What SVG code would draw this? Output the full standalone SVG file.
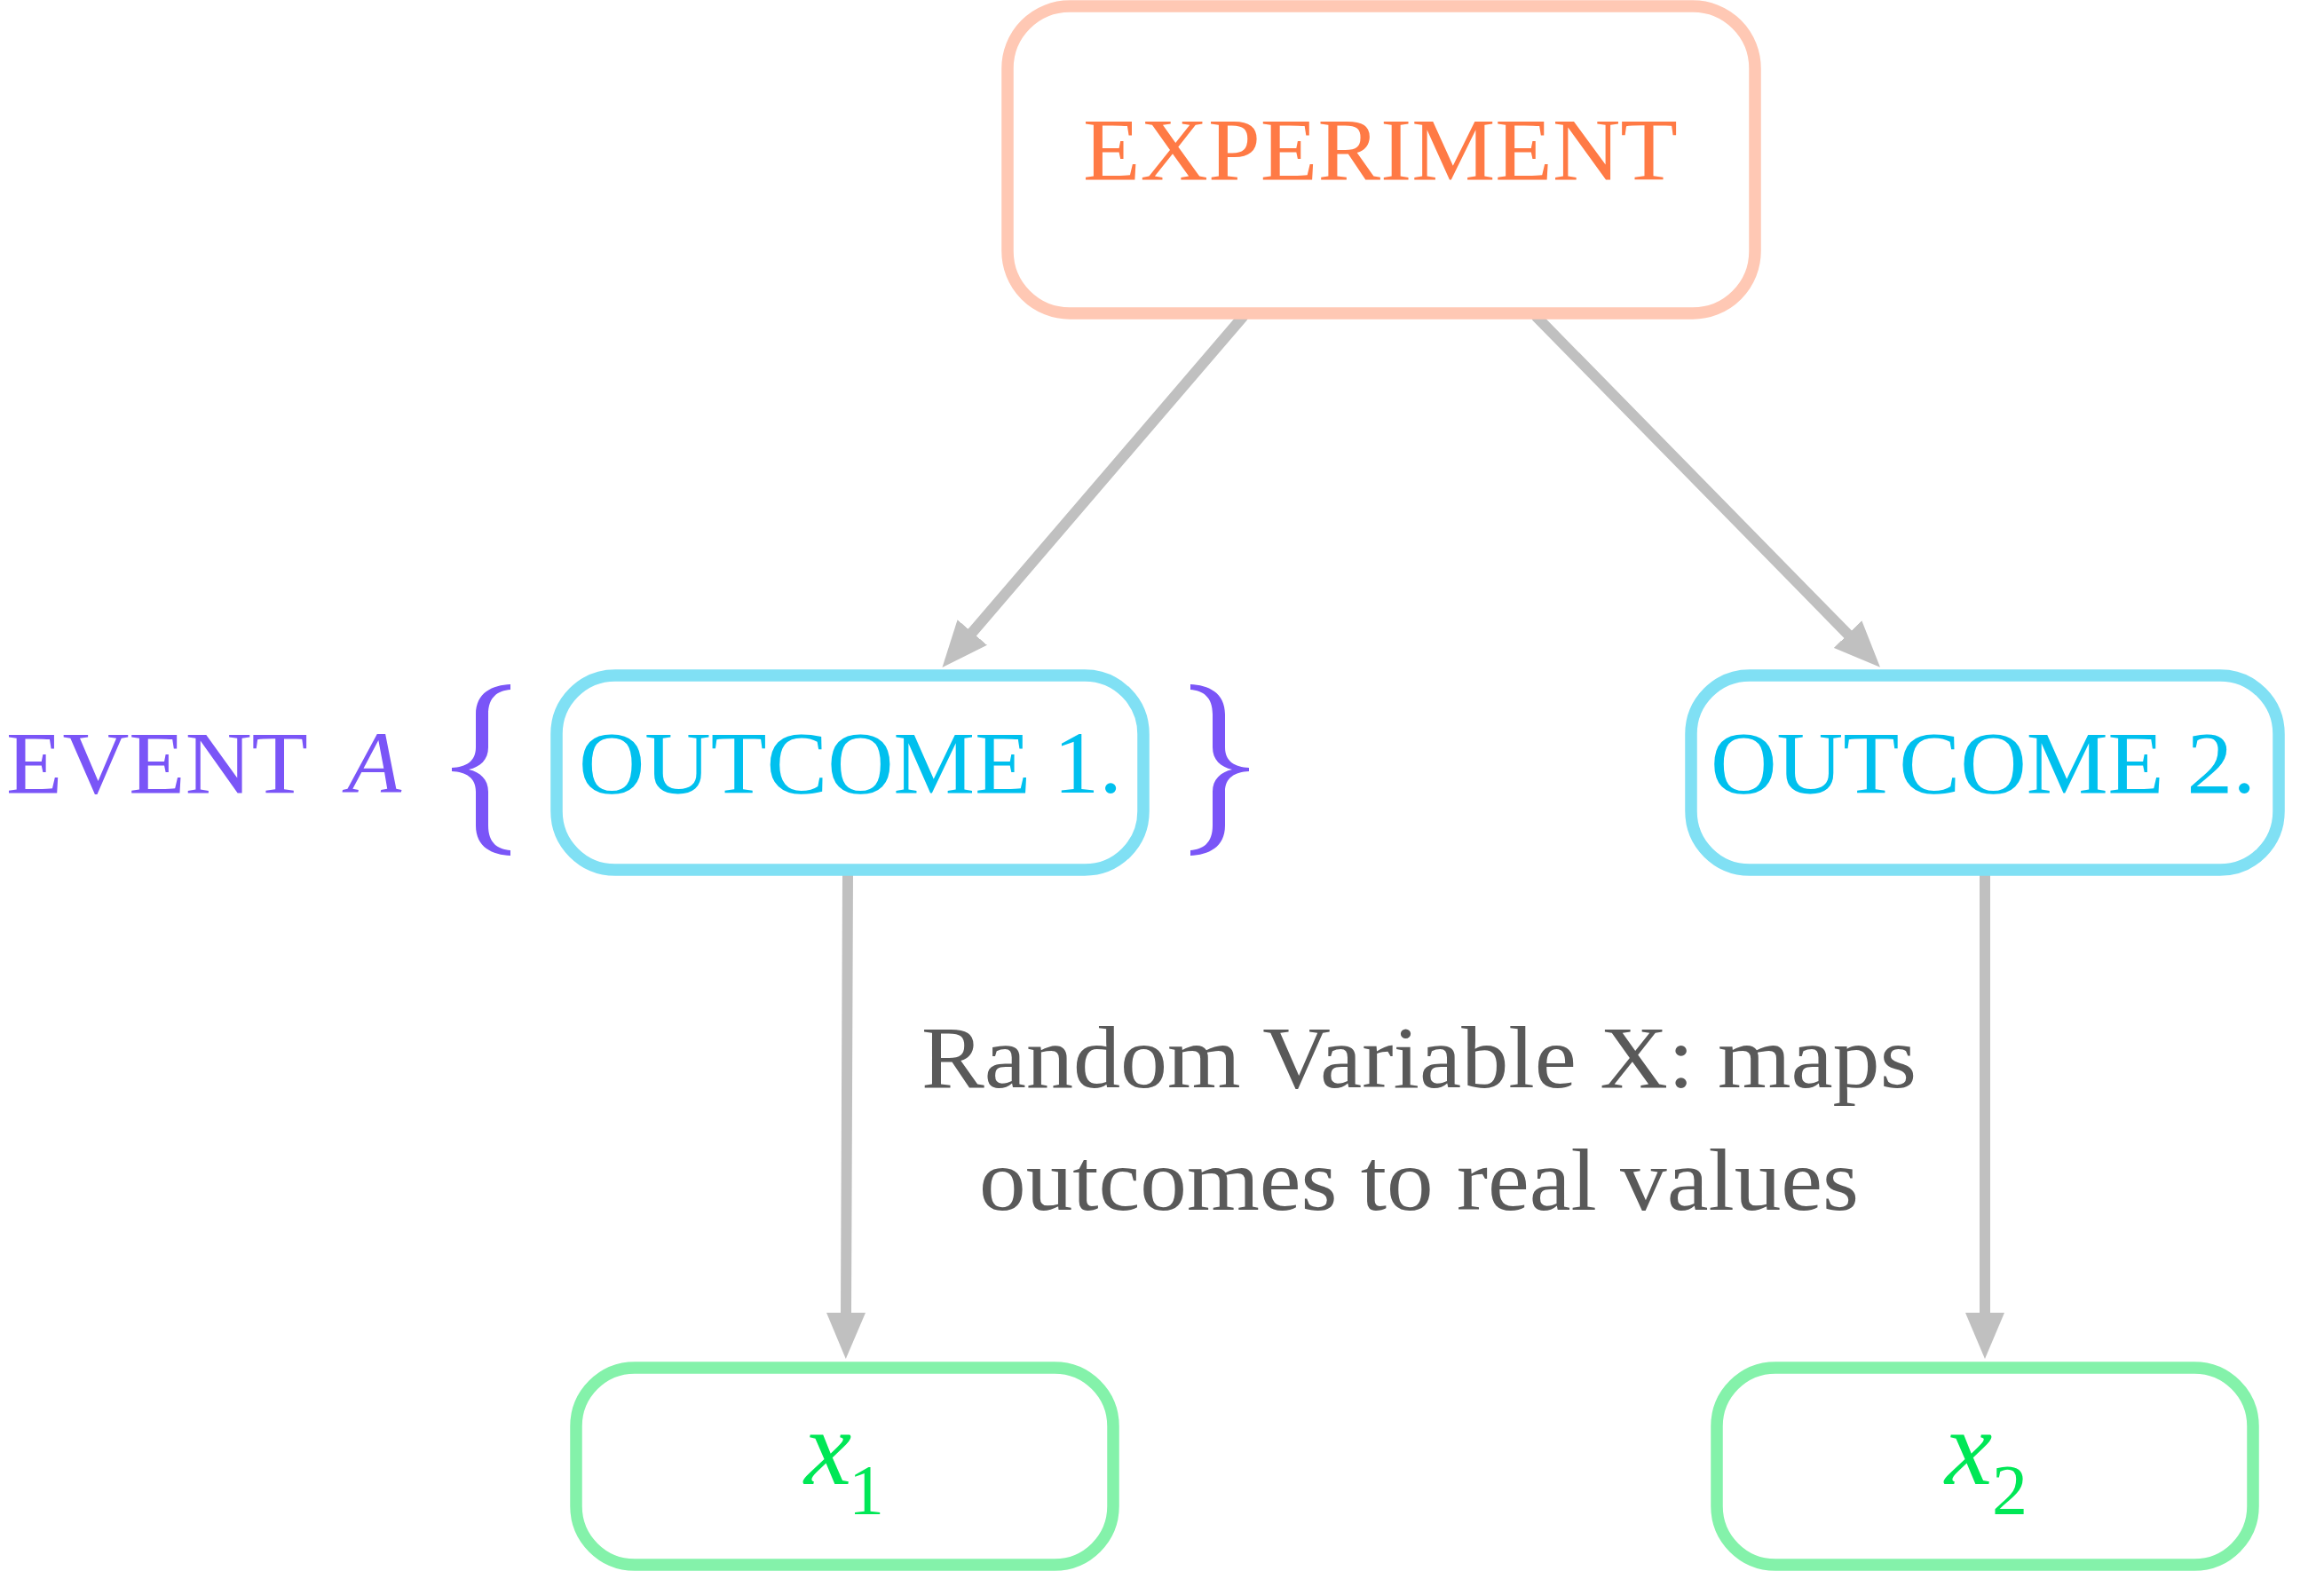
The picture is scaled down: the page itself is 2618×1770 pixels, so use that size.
<svg xmlns="http://www.w3.org/2000/svg" width="2618" height="1770" viewBox="0 0 2618 1770">
<style>
.box{fill:#fff;stroke-width:13.5}
.exp{stroke:#FFC8B4}
.out{stroke:#80E0F4}
.val{stroke:#84F2AA}
.lbl{font-family:"Liberation Serif","DejaVu Serif",serif;font-size:100px}
.conn{fill:none;stroke:#C0C0C0;stroke-width:12;stroke-linecap:round}
</style>
<defs>
<marker id="ah" markerUnits="userSpaceOnUse" markerWidth="52" markerHeight="44" viewBox="0 0 52 44" refX="2" refY="22" orient="auto">
<path d="M0,0 L52,22 L0,44 Z" fill="#C0C0C0"/>
</marker>
<path id="brace" fill="#7A55F7" d="M575,771 C555,772 536,780 536,805 L536,842 C536,858 525,864 509,865 L509,869 C525,870 536,876 536,892 L536,930 C536,955 555,963 575,964 L575,958 C561,957 550,950 550,930 L550,892 C550,878 541,870 528,867 C541,864 550,856 550,842 L550,805 C550,785 561,778 575,777 Z"/>
</defs>
<g id="connectors">
<path class="conn" d="M1400,357 L1094,714" marker-end="url(#ah)"/>
<path class="conn" d="M1731,357 L2083,716" marker-end="url(#ah)"/>
<path class="conn" d="M955,983 L953,1481" marker-end="url(#ah)"/>
<path class="conn" d="M2236,983 L2236,1481" marker-end="url(#ah)"/>
</g>
<g id="experiment">
<rect class="box exp" x="1135" y="7" width="842" height="346" rx="70" ry="70"/>
<text class="lbl" x="1220" y="202" fill="#FF7A45" textLength="670" lengthAdjust="spacingAndGlyphs">EXPERIMENT</text>
</g>
<g id="outcome1">
<rect class="box out" x="627" y="761" width="661" height="219" rx="66" ry="66"/>
<text class="lbl" x="652" y="893" fill="#00C0EE" textLength="612" lengthAdjust="spacingAndGlyphs">OUTCOME 1.</text>
</g>
<g id="outcome2">
<rect class="box out" x="1905" y="761" width="662" height="219" rx="66" ry="66"/>
<text class="lbl" x="1927" y="893" fill="#00C0EE" textLength="614" lengthAdjust="spacingAndGlyphs">OUTCOME 2.</text>
</g>
<g id="eventA">
<text class="lbl" x="7" y="893" fill="#7A55F7" textLength="340" lengthAdjust="spacingAndGlyphs">EVENT</text>
<text class="lbl" x="391" y="893" fill="#7A55F7" font-style="italic">A</text>
<use href="#brace"/>
<use href="#brace" transform="translate(1916,0) scale(-1,1)"/>
</g>
<g id="x1">
<rect class="box val" x="649" y="1541" width="605" height="222" rx="66" ry="66"/>
<text font-family="Liberation Serif, DejaVu Serif, serif" fill="#00E756"><tspan x="906" y="1672" font-size="120" font-style="italic">x</tspan><tspan x="956" y="1706" font-size="80">1</tspan></text>
</g>
<g id="x2">
<rect class="box val" x="1934" y="1541" width="604" height="222" rx="66" ry="66"/>
<text font-family="Liberation Serif, DejaVu Serif, serif" fill="#00E756"><tspan x="2191" y="1672" font-size="120" font-style="italic">x</tspan><tspan x="2244" y="1706" font-size="80">2</tspan></text>
</g>
<g id="rv-label">
<text class="lbl" x="1038" y="1225" fill="#595959" textLength="1121" lengthAdjust="spacingAndGlyphs">Random Variable X: maps</text>
<text class="lbl" x="1103" y="1363" fill="#595959" textLength="991" lengthAdjust="spacingAndGlyphs">outcomes to real values</text>
</g>
</svg>
